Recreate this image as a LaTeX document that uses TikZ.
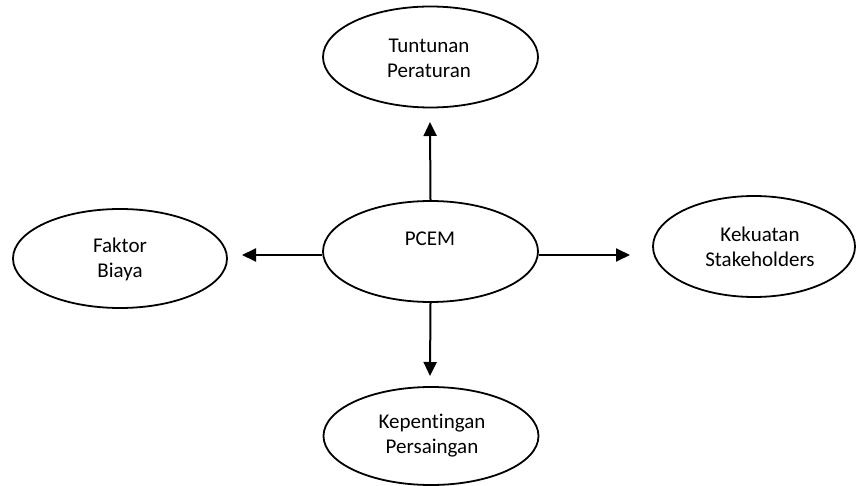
\documentclass[tikz,border=0pt]{standalone}
\usepackage{fontspec}
\setmainfont{Carlito}[Ligatures={NoCommon}]
\usetikzlibrary{shapes.geometric,arrows.meta}
\begin{document}
\begin{tikzpicture}[x=1pt,y=-1pt,
  oval/.style={ellipse,draw,line width=1.8pt,inner sep=0pt},
  lbl/.style={align=center,font=\fontsize{21}{25}\selectfont,inner sep=0pt},
  arr/.style={line width=2pt,-{Triangle[length=14pt,width=13pt]}}]
\useasboundingbox (0,0) rectangle (856,486);
\node[oval,minimum width=215pt,minimum height=101pt] (top) at (430.5,57) {};
\node[oval,minimum width=215pt,minimum height=101pt] (pcem) at (430.5,251.5) {};
\node[oval,minimum width=214pt,minimum height=99pt] (left) at (120,258.5) {};
\node[oval,minimum width=202pt,minimum height=101pt] (right) at (754,246.5) {};
\node[oval,minimum width=215pt,minimum height=98pt] (bottom) at (431,436) {};
\node[lbl] (ttop) at (429,58) {Tuntunan\\Peraturan};
\node[lbl] (tpcem) at (430,239) {PCEM};
\node[lbl] (tleft) at (120,259.5) {Faktor\\Biaya};
\node[lbl] (tright) at (760,246.5) {Kekuatan\\Stakeholders};
\node[lbl] (tbottom) at (432,435.5) {Kepentingan\\Persaingan};
\coordinate (tipT) at (430,122);
\coordinate (tipB) at (430,376);
\coordinate (tipL) at (242,255);
\coordinate (tipR) at (630,255);
\draw[arr] (pcem.north) -- (tipT);
\draw[arr] (pcem.south) -- (tipB);
\draw[arr] ([yshift=-3.5pt]pcem.west) -- (tipL);
\draw[arr] ([yshift=-3.5pt]pcem.east) -- (tipR);
\end{tikzpicture}
\end{document}
